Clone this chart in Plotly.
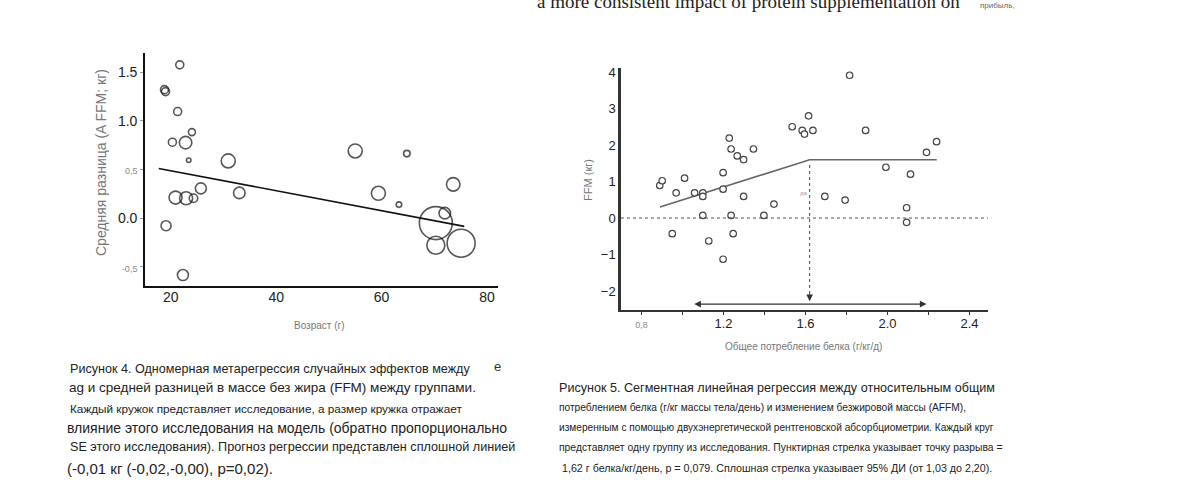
import plotly.graph_objects as go

# --- left panel: age vs mean difference in FFM (meta-regression) ---
age = [21.7, 18.8, 19.0, 21.3, 24.0, 20.3, 22.8, 23.4, 30.9, 25.7, 20.9, 22.9, 24.3,
       33.0, 19.1, 22.3, 55.0, 64.8, 59.4, 63.3, 73.6, 72.0, 70.3, 70.3, 75.1]
mean_diff = [1.575, 1.32, 1.30, 1.095, 0.884, 0.78, 0.776, 0.595, 0.588, 0.306, 0.211,
             0.204, 0.204, 0.259, -0.078, -0.585, 0.69, 0.663, 0.255, 0.139, 0.347,
             0.051, -0.051, -0.279, -0.258]
weight = [8, 8, 8, 8, 7, 8, 12.5, 4.5, 14, 11, 13, 13, 8.5, 11.5, 10, 11, 14, 6.5, 14,
          5.5, 13.5, 11.5, 33, 18, 28]
fit_age = [17.7, 75.7]
fit_diff = [0.51, -0.085]
left_yticks = [-0.5, 0.0, 0.5, 1.0, 1.5]
left_yticktext = ["-0,5", "0.0", "0,5", "1.0", "1.5"]
left_xticks = [20, 40, 60, 80]

# --- right panel: protein intake vs change in FFM (segmented regression) ---
protein = [0.889, 0.901, 0.969, 1.010, 0.950, 1.059, 1.099, 1.099, 1.099, 1.128, 1.198,
           1.198, 1.198, 1.228, 1.237, 1.237, 1.247, 1.267, 1.298, 1.298, 1.346, 1.397,
           1.446, 1.535, 1.584, 1.595, 1.615, 1.636, 1.694, 1.793, 1.815, 1.893, 1.992,
           2.093, 2.093, 2.112, 2.190, 2.239]
ffm = [0.89, 1.02, 0.69, 1.09, -0.43, 0.69, 0.69, 0.59, 0.07, -0.63, 1.24, 0.79, -1.13,
       2.19, 1.89, 0.07, -0.43, 1.70, 1.60, 0.59, 1.89, 0.07, 0.38, 2.50, 2.40, 2.30,
       2.80, 2.40, 0.59, 0.49, 3.91, 2.40, 1.39, 0.28, -0.12, 1.20, 1.80, 2.09]
seg_x = [0.89, 1.62, 2.24]
seg_y = [0.30, 1.595, 1.595]
breakpoint = 1.62
break_top = 1.45
ci_bounds = [1.05, 2.19]
right_xticks = [0.8, 1.0, 1.2, 1.4, 1.6, 1.8, 2.0, 2.2, 2.4]
right_xticktext = ["0,8", "", "1.2", "", "1.6", "", "2.0", "", "2.4"]
right_yticks = [-2, -1, 0, 1, 2, 3, 4]

small = "<span style='font-size:9px;color:#8a8a8a'>{}</span>"

fig = go.Figure()

fig.add_trace(go.Scatter(
    x=age, y=mean_diff, mode="markers", xaxis="x", yaxis="y",
    marker=dict(size=weight, color="rgba(0,0,0,0)", line=dict(color="#111", width=1.6)),
    showlegend=False,
))
fig.add_trace(go.Scatter(
    x=fit_age, y=fit_diff, mode="lines", xaxis="x", yaxis="y",
    line=dict(color="#111", width=1.6), showlegend=False,
))

fig.add_trace(go.Scatter(
    x=seg_x, y=seg_y, mode="lines", xaxis="x2", yaxis="y2",
    line=dict(color="#666", width=1.6), showlegend=False,
))
fig.add_trace(go.Scatter(
    x=[breakpoint, breakpoint], y=[break_top, -2.2], mode="lines", xaxis="x2", yaxis="y2",
    line=dict(color="#555", width=1.1, dash="dot"), showlegend=False,
))
fig.add_trace(go.Scatter(
    x=protein, y=ffm, mode="markers", xaxis="x2", yaxis="y2",
    marker=dict(size=6.5, color="white", line=dict(color="#444", width=1.2)),
    showlegend=False,
))

fig.add_shape(type="line", xref="x2 domain", x0=0, x1=1, yref="y2", y0=0, y1=0,
              line=dict(color="#555", width=1.1, dash="dot"))


def note(px, py, text, size, color="#777", angle=0, anchor="center", family=None):
    font = dict(size=size, color=color)
    if family:
        font["family"] = family
    return dict(x=px / 1200, y=1 - py / 487, xref="paper", yref="paper", text=text,
                textangle=angle, showarrow=False, xanchor=anchor, yanchor="middle",
                font=font)


annotations = [
    # arrowheads on the right panel
    dict(x=breakpoint, y=-2.28, ax=breakpoint, ay=-2.05, xref="x2", yref="y2",
         axref="x2", ayref="y2", text="", showarrow=True, arrowhead=2, arrowsize=1.2,
         arrowwidth=1.1, arrowcolor="#333"),
    dict(x=ci_bounds[1], y=-2.36, ax=ci_bounds[0], ay=-2.36, xref="x2", yref="y2",
         axref="x2", ayref="y2", text="", showarrow=True, arrowhead=2, arrowside="end+start",
         arrowsize=1.2, arrowwidth=1.1, arrowcolor="#333"),
    dict(x=1.592, y=0.69, xref="x2", yref="y2", text="да", showarrow=False,
         font=dict(size=6, color="#999")),
    # axis titles
    note(101, 161, "Средняя разница (A FFM; кг)", 14, angle=-90),
    note(319, 324, "Возраст (г)", 10),
    note(588, 178, "FFM (кг)", 11, angle=-90),
    note(803, 346, "Общее потребление белка (г/кг/д)", 10),
    # cut-off line of page text above the figure
    note(748, -2, "a more consistent impact of protein supplementation on", 19,
         color="#222", family="Liberation Serif"),
    note(997, 3, "прибыль,", 8, color="#666"),
    note(497, 366, "e", 13, color="#333"),
]

left_caption = [
    (68, 368, 12.6, "Рисунок 4. Одномерная метарегрессия случайных эффектов между"),
    (67, 387, 13.5, "ag и средней разницей в массе без жира (FFM) между группами."),
    (68, 408, 11.75, "Каждый кружок представляет исследование, а размер кружка отражает"),
    (65, 428, 14, "влияние этого исследования на модель (обратно пропорционально"),
    (68, 447, 12.65, "SE этого исследования). Прогноз регрессии представлен сплошной линией"),
    (65, 468, 15, "(-0,01 кг (-0,02,-0,00), p=0,02)."),
]
right_caption = [
    (557, 387, 12.6, "Рисунок 5. Сегментная линейная регрессия между относительным общим"),
    (557, 407, 10.2, "потреблением белка (г/кг массы тела/день) и изменением безжировой массы (AFFM),"),
    (557, 427, 10.15, "измеренным с помощью двухэнергетической рентгеновской абсорбциометрии. Каждый круг"),
    (557, 447, 10.35, "представляет одну группу из исследования. Пунктирная стрелка указывает точку разрыва ="),
    (560, 468, 10.7, "1,62 г белка/кг/день, p = 0,079. Сплошная стрелка указывает 95% ДИ (от 1,03 до 2,20)."),
]
for px, py, size, line in left_caption + right_caption:
    annotations.append(note(px, py, line, size, color="#222", anchor="left"))

fig.update_layout(
    width=1200,
    height=487,
    margin=dict(l=0, r=0, t=0, b=0),
    paper_bgcolor="white",
    plot_bgcolor="white",
    font=dict(family="Liberation Sans, Arial, sans-serif", color="#222"),
    showlegend=False,
    hovermode=False,
    annotations=annotations,
    xaxis=dict(
        domain=[145 / 1200, 498 / 1200], range=[15.1, 82.1], tickvals=left_xticks,
        showline=True, linecolor="#111", linewidth=1.6, ticks="", showgrid=False,
        zeroline=False, tickfont=dict(size=14, color="#222"), anchor="y",
        ticklabelstandoff=-3,
    ),
    yaxis=dict(
        domain=[1 - 285 / 487, 1 - 50 / 487], range=[-0.70, 1.70], tickvals=left_yticks,
        ticktext=[small.format(t) if "," in t else t for t in left_yticktext],
        showline=True, linecolor="#111", linewidth=1.6, ticks="outside", ticklen=3,
        tickcolor="#999", showgrid=False, zeroline=False,
        tickfont=dict(size=14, color="#222"), anchor="x",
    ),
    xaxis2=dict(
        domain=[621 / 1200, 988 / 1200], range=[0.70, 2.49], tickvals=right_xticks,
        ticktext=[small.format(t) if "," in t else t for t in right_xticktext],
        showline=True, linecolor="#333", linewidth=2, ticks="outside", ticklen=3,
        tickcolor="#333", showgrid=False, zeroline=False,
        tickfont=dict(size=13, color="#222"), anchor="y2", ticklabelstandoff=-2,
    ),
    yaxis2=dict(
        domain=[1 - 308.5 / 487, 1 - 65 / 487], range=[-2.51, 4.12], tickvals=right_yticks,
        showline=True, linecolor="#333", linewidth=2.5, ticks="", showgrid=False,
        zeroline=False, tickfont=dict(size=13, color="#222"), anchor="x2",
    ),
)

# drop the default page margin so the figure sits at the window's top-left corner
fig.write_html("out.html", config={"displayModeBar": False},
               post_script="document.body.style.margin = '0';")
